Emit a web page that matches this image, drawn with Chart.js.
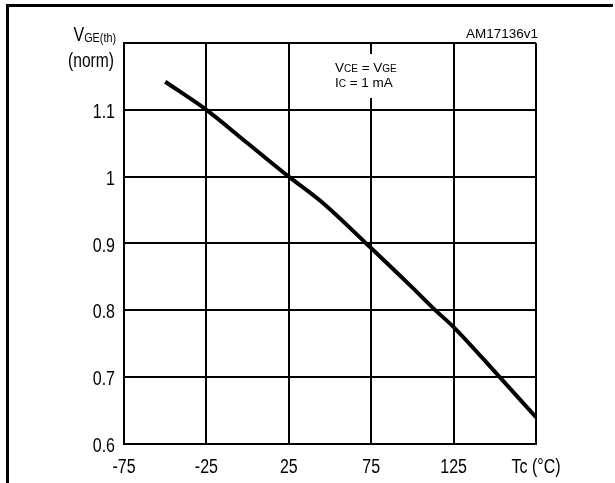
<!DOCTYPE html>
<html>
<head>
<meta charset="utf-8">
<script src="https://cdn.jsdelivr.net/npm/chart.js@4.4.1/dist/chart.umd.min.js"></script>
<style>
  html, body { margin: 0; padding: 0; background: #fff; }
  canvas { display: block; }
</style>
</head>
<body>
<canvas id="chart" width="615" height="483"></canvas>
<script>
// case temperature (°C) and normalized threshold voltage
var tcValues = [-50, -25, 0, 25, 45, 72, 100, 114, 125, 153, 175];
var vgeNorm = [1.142, 1.1, 1.05, 1.0, 0.962, 0.9, 0.834, 0.8, 0.775, 0.7, 0.64];

var xTicks = [-75, -25, 25, 75, 125, 175];
var yTicks = [0.6, 0.7, 0.8, 0.9, 1, 1.1, 1.2];

var regular = "'Liberation Sans', Arial, sans-serif";
var SQUEEZE = 0.8; // the original uses a condensed face, no narrow font here so squeeze it

var points = tcValues.map(function (t, i) { return { x: t, y: vgeNorm[i] }; });

// draws [text, size, dy] parts, squeezed horizontally, ending (align right) or starting at x
function drawParts(ctx, parts, x, y, sx, alignRight) {
    var w = 0;
    parts.forEach(function (p) {
        ctx.font = p[1] + 'px ' + regular;
        w += ctx.measureText(p[0]).width * sx;
    });
    var cx = alignRight ? x - w : x;
    ctx.textAlign = 'left';
    parts.forEach(function (p) {
        ctx.font = p[1] + 'px ' + regular;
        ctx.save();
        ctx.translate(cx, y + (p[2] || 0));
        ctx.scale(sx, 1);
        ctx.fillText(p[0], 0, 0);
        ctx.restore();
        cx += ctx.measureText(p[0]).width * sx;
    });
}

var decorations = {
    id: 'decorations',
    beforeDraw: function (chart) {
        var ctx = chart.ctx;
        ctx.save();
        ctx.fillStyle = '#fff';
        ctx.fillRect(0, 0, chart.width, chart.height);
        // outer frame (top and left edges)
        ctx.fillStyle = '#000';
        ctx.fillRect(6, 4, 607, 3);
        ctx.fillRect(6, 4, 3, 479);
        ctx.restore();
    },
    afterDraw: function (chart) {
        var ctx = chart.ctx;
        var area = chart.chartArea;
        var xs = chart.scales.x, ys = chart.scales.y;
        ctx.save();
        ctx.fillStyle = '#000';
        ctx.textBaseline = 'alphabetic';

        // tick labels, placed by the scales
        xs.ticks.forEach(function (t) {
            var px = xs.getPixelForValue(t.value);
            var lbl = String(t.label);
            ctx.font = '20px ' + regular;
            var w = ctx.measureText(lbl).width * SQUEEZE;
            drawParts(ctx, [[lbl, 20]], px - w / 2, 473, SQUEEZE, false);
        });
        ys.ticks.forEach(function (t) {
            var lbl = String(t.label);
            if (!lbl) return;
            var py = ys.getPixelForValue(t.value);
            drawParts(ctx, [[lbl, 20]], 115, py + 8, SQUEEZE, true);
        });

        // y axis title
        drawParts(ctx, [['V', 20], ['GE(th)', 13.5, 1]], 116, 41, SQUEEZE, true);
        drawParts(ctx, [['(norm)', 19.5]], 114, 67, SQUEEZE, true);

        // figure code
        ctx.font = '13.5px ' + regular;
        ctx.textAlign = 'right';
        ctx.fillText('AM17136v1', area.right + 2, 38);

        // test conditions box
        ctx.fillStyle = '#fff';
        ctx.fillRect(333, 54, 70, 44);
        ctx.fillStyle = '#000';
        drawParts(ctx, [['V', 13.5], ['CE', 10], [' = ', 13.5], ['V', 13.5], ['GE', 10]], 335, 72, 1, false);
        drawParts(ctx, [['I', 13.5], ['C', 10], [' = 1 mA', 13.5]], 335, 87, 1, false);
        ctx.restore();
    }
};

new Chart(document.getElementById('chart'), {
    type: 'scatter',
    data: {
        datasets: [{
            data: points,
            showLine: true,
            borderColor: '#000',
            borderWidth: 4,
            pointRadius: 0,
            cubicInterpolationMode: 'monotone'
        }]
    },
    options: {
        responsive: false,
        animation: false,
        devicePixelRatio: 1,
        layout: { padding: { top: 43, right: 79, left: 0, bottom: 0 } },
        plugins: { legend: { display: false }, tooltip: { enabled: false } },
        scales: {
            x: {
                type: 'linear',
                min: -75,
                max: 175,
                afterBuildTicks: function (scale) {
                    scale.ticks = xTicks.map(function (v) { return { value: v }; });
                },
                afterFit: function (scale) { scale.height = 39; },
                grid: { color: '#000', lineWidth: 2, drawTicks: false },
                border: { color: '#000', width: 2 },
                ticks: {
                    autoSkip: false,
                    maxRotation: 0,
                    padding: 9,
                    color: 'rgba(0,0,0,0)',
                    font: { family: regular, size: 16 },
                    callback: function (v) { return v === 175 ? 'Tc (°C)' : String(v); }
                }
            },
            y: {
                min: 0.6,
                max: 1.2,
                afterBuildTicks: function (scale) {
                    scale.ticks = yTicks.map(function (v) { return { value: v }; });
                },
                afterFit: function (scale) { scale.width = 124; },
                grid: { color: '#000', lineWidth: 2, drawTicks: false },
                border: { color: '#000', width: 2 },
                ticks: {
                    padding: 10,
                    color: 'rgba(0,0,0,0)',
                    font: { family: regular, size: 16 },
                    callback: function (v) {
                        var r = Math.round(v * 10) / 10;
                        return r === 1.2 ? '' : String(r);
                    }
                }
            }
        }
    },
    plugins: [decorations]
});
</script>
</body>
</html>
